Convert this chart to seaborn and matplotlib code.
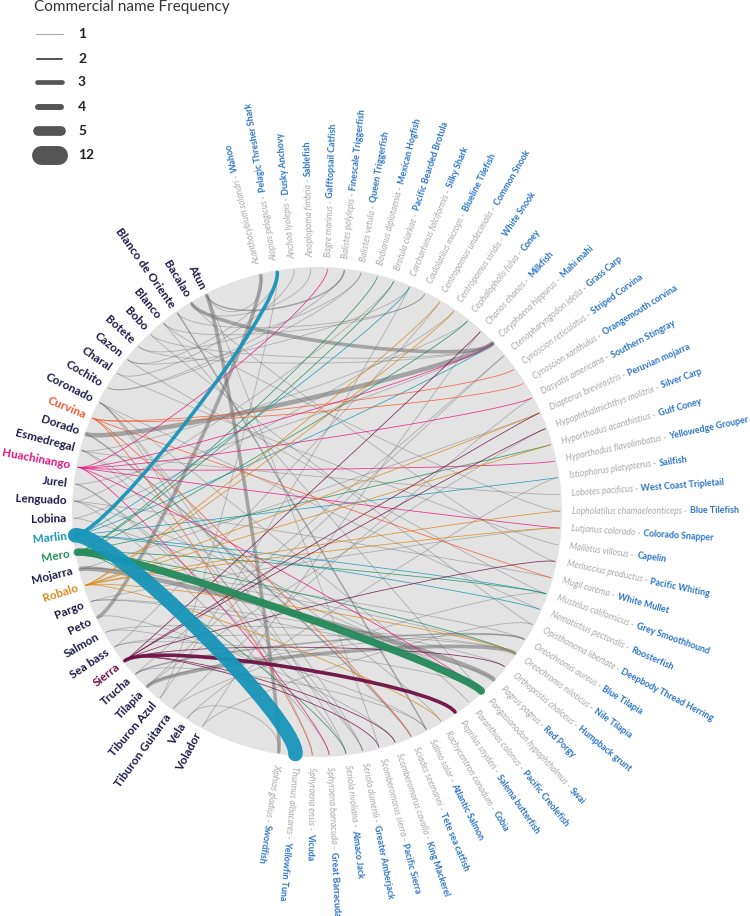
import numpy as np
import matplotlib
matplotlib.use("Agg")
import matplotlib.pyplot as plt
from matplotlib.path import Path
from matplotlib.patches import PathPatch, Circle
from matplotlib.font_manager import FontProperties
import seaborn as sns

sns.set_theme(style="white")
plt.rcParams["font.family"] = ["Lato", "DejaVu Sans"]

# ---- data -------------------------------------------------------------
commercial_names = [
    "Atun", "Bacalao", "Blanco de Oriente", "Blanco", "Bobo", "Botete", "Cazon",
    "Charal", "Cochito", "Coronado", "Curvina", "Dorado", "Esmedregal",
    "Huachinango", "Jurel", "Lenguado", "Lobina", "Marlin", "Mero", "Mojarra",
    "Robalo", "Pargo", "Peto", "Salmon", "Sea bass", "Sierra", "Trucha",
    "Tilapia", "Tiburon Azul", "Tiburon Guitarra", "Vela", "Volador",
]

scientific_names = [
    "Acanthocybium solandri", "Alopias pelagicus", "Anchoa lyolepis",
    "Anoplopoma fimbria", "Bagre marinus", "Balistes polylepis",
    "Balistes vetula", "Bodianus diplotaenia", "Brotula clarkae",
    "Carcharhinus falciformis", "Caulolatilus microps",
    "Centropomus undecimalis", "Centropomus viridis", "Cephalopholis fulva",
    "Chanos chanos", "Coryphaena hippurus", "Ctenopharyngodon idella",
    "Cynoscion reticulatus", "Cynoscion xanthulus", "Dasyatis americana",
    "Diapterus brevirostris", "Hypophthalmichthys molitrix",
    "Hyporthodus acanthistius", "Hyporthodus flavolimbatus",
    "Istiophorus platypterus", "Lobotes pacificus",
    "Lopholatilus chamaeleonticeps", "Lutjanus colorado", "Mallotus villosus",
    "Merluccius productus", "Mugil curema", "Mustelus californicus",
    "Nematistius pectoralis", "Opisthonema libertate", "Oreochromis aureus",
    "Oreochromis niloticus", "Orthopristis chalceus", "Pagrus pagrus",
    "Pangasianodon hypophthalmus", "Paranthias colonus", "Peprilus snyderi",
    "Rachycentron canadum", "Salmo salar", "Sciades seemanni",
    "Scomberomorus cavalla", "Scomberomorus sierra", "Seriola dumerili",
    "Seriola rivoliana", "Sphyraena barracuda", "Sphyraena ensis",
    "Thunnus albacares", "Xiphias gladius",
]

english_names = [
    "Wahoo", "Pelagic Thresher Shark", "Dusky Anchovy", "Sablefish",
    "Gafftopsail Catfish", "Finescale Triggerfish", "Queen Triggerfish",
    "Mexican Hogfish", "Pacific Bearded Brotula", "Silky Shark",
    "Blueline Tilefish", "Common Snook", "White Snook", "Coney", "Milkfish",
    "Mahi mahi", "Grass Carp", "Striped Corvina", "Orangemouth corvina",
    "Southern Stingray", "Peruvian mojarra", "Silver Carp", "Gulf Coney",
    "Yellowedge Grouper", "Sailfish", "West Coast Tripletail", "Blue Tilefish",
    "Colorado Snapper", "Capelin", "Pacific Whiting", "White Mullet",
    "Grey Smoothhound", "Roosterfish", "Deepbody Thread Herring",
    "Blue Tilapia", "Nile Tilapia", "Humpback grunt", "Red Porgy", "Swai",
    "Pacific Creolefish", "Salema butterfish", "Cobia", "Atlantic Salmon",
    "Tete sea catfish", "King Mackerel", "Pacific Sierra", "Greater Amberjack",
    "Almaco Jack", "Great Barracuda", "Vicuda", "Yellowfin Tuna", "Swordfish",
]

# links: commercial name -> species, frequency
link_source = [
    "Marlin", "Marlin", "Marlin", "Marlin", "Marlin", "Marlin", "Marlin",
    "Mero", "Mero", "Mero", "Mero", "Mero", "Mero", "Mero", "Mero",
    "Curvina", "Curvina", "Curvina", "Curvina", "Curvina",
    "Huachinango", "Huachinango", "Huachinango", "Huachinango", "Huachinango",
    "Huachinango", "Huachinango",
    "Robalo", "Robalo", "Robalo", "Robalo", "Robalo", "Robalo", "Robalo", "Robalo",
    "Sierra", "Sierra", "Sierra", "Sierra", "Sierra", "Sierra", "Sierra", "Sierra",
    "Atun", "Atun", "Atun", "Atun",
    "Bacalao", "Bacalao", "Bacalao",
    "Blanco de Oriente", "Blanco de Oriente",
    "Blanco", "Blanco", "Blanco",
    "Bobo", "Bobo",
    "Botete", "Botete",
    "Cazon", "Cazon", "Cazon",
    "Charal", "Charal",
    "Cochito", "Cochito",
    "Coronado", "Coronado", "Coronado", "Coronado", "Coronado",
    "Dorado", "Dorado",
    "Esmedregal", "Esmedregal", "Esmedregal", "Esmedregal",
    "Jurel", "Jurel", "Jurel",
    "Lenguado", "Lenguado", "Lenguado", "Lenguado",
    "Lobina", "Lobina",
    "Mojarra", "Mojarra", "Mojarra", "Mojarra",
    "Pargo", "Pargo", "Pargo",
    "Peto", "Peto",
    "Salmon", "Salmon",
    "Sea bass", "Sea bass", "Sea bass",
    "Trucha", "Trucha", "Trucha",
    "Tilapia", "Tilapia", "Tilapia", "Tilapia",
    "Tiburon Azul", "Tiburon Azul",
    "Tiburon Guitarra", "Tiburon Guitarra",
    "Vela", "Vela",
    "Volador", "Volador",
]
link_target = [
    "Thunnus albacares", "Alopias pelagicus", "Istiophorus platypterus",
    "Carcharhinus falciformis", "Coryphaena hippurus", "Nematistius pectoralis",
    "Mustelus californicus",
    "Pangasianodon hypophthalmus", "Bodianus diplotaenia", "Brotula clarkae",
    "Cephalopholis fulva", "Hyporthodus acanthistius", "Mustelus californicus",
    "Oreochromis niloticus", "Seriola rivoliana",
    "Cynoscion reticulatus", "Cynoscion xanthulus", "Sphyraena ensis",
    "Sciades seemanni", "Mugil curema",
    "Bagre marinus", "Coryphaena hippurus", "Dasyatis americana",
    "Hyporthodus flavolimbatus", "Pangasianodon hypophthalmus",
    "Sphyraena barracuda", "Lutjanus colorado",
    "Centropomus undecimalis", "Centropomus viridis", "Diapterus brevirostris",
    "Hyporthodus acanthistius", "Lopholatilus chamaeleonticeps",
    "Lutjanus colorado", "Oreochromis niloticus", "Rachycentron canadum",
    "Peprilus snyderi", "Scomberomorus cavalla", "Diapterus brevirostris",
    "Hypophthalmichthys molitrix", "Merluccius productus",
    "Orthopristis chalceus", "Chanos chanos", "Scomberomorus sierra",
    "Xiphias gladius", "Balistes polylepis", "Acanthocybium solandri",
    "Scomberomorus sierra",
    "Coryphaena hippurus", "Anoplopoma fimbria", "Merluccius productus",
    "Salmo salar", "Caulolatilus microps",
    "Lopholatilus chamaeleonticeps", "Caulolatilus microps",
    "Pangasianodon hypophthalmus",
    "Coryphaena hippurus", "Opisthonema libertate",
    "Balistes vetula", "Coryphaena hippurus",
    "Mustelus californicus", "Carcharhinus falciformis", "Alopias pelagicus",
    "Mallotus villosus", "Anchoa lyolepis",
    "Balistes polylepis", "Balistes vetula",
    "Seriola dumerili", "Seriola rivoliana", "Paranthias colonus",
    "Nematistius pectoralis", "Sphyraena ensis",
    "Coryphaena hippurus", "Sciades seemanni",
    "Rachycentron canadum", "Seriola dumerili", "Cephalopholis fulva",
    "Lobotes pacificus",
    "Seriola dumerili", "Seriola rivoliana", "Coryphaena hippurus",
    "Brotula clarkae", "Mugil curema", "Pangasianodon hypophthalmus",
    "Sphyraena barracuda",
    "Centropomus viridis", "Pangasianodon hypophthalmus",
    "Pagrus pagrus", "Diapterus brevirostris", "Oreochromis niloticus",
    "Oreochromis aureus",
    "Lutjanus colorado", "Pagrus pagrus", "Orthopristis chalceus",
    "Acanthocybium solandri", "Scomberomorus cavalla",
    "Salmo salar", "Oreochromis niloticus",
    "Centropomus undecimalis", "Oreochromis niloticus",
    "Pangasianodon hypophthalmus",
    "Oreochromis aureus", "Salmo salar", "Ctenopharyngodon idella",
    "Oreochromis niloticus", "Oreochromis aureus", "Ctenopharyngodon idella",
    "Hypophthalmichthys molitrix",
    "Carcharhinus falciformis", "Alopias pelagicus",
    "Dasyatis americana", "Mustelus californicus",
    "Istiophorus platypterus", "Xiphias gladius",
    "Chanos chanos", "Opisthonema libertate",
]
link_freq = [
    12, 3, 1, 1, 1, 1, 1,
    5, 1, 1, 1, 1, 1, 1, 1,
    1, 1, 1, 1, 1,
    1, 1, 1, 1, 1, 1, 1,
    1, 1, 1, 1, 1, 1, 1, 1,
    3, 1, 1, 1, 1, 1, 1, 1,
    3, 2, 1, 1,
    3, 1, 1,
    2, 1,
    1, 1, 1,
    1, 1,
    1, 1,
    1, 1, 1,
    1, 1,
    1, 1,
    1, 1, 1, 1, 1,
    4, 2,
    1, 1, 1, 1,
    1, 1, 1,
    1, 1, 1, 1,
    1, 1,
    4, 1, 1, 1,
    1, 1, 1,
    3, 1,
    1, 1,
    1, 1, 1,
    2, 1, 1,
    3, 1, 1, 1,
    1, 1,
    1, 1,
    1, 1,
    1, 1,
]

legend_freq = [1, 2, 3, 4, 5, 12]

highlight = {
    "Curvina": "#f05a33",
    "Huachinango": "#e6157f",
    "Marlin": "#1795b8",
    "Mero": "#238a5b",
    "Robalo": "#d8891c",
    "Sierra": "#6e1046",
}

# ---- style ------------------------------------------------------------
NAVY = "#1c1b4a"
SCI_GREY = "#a8a8a8"
ENG_BLUE = "#2a74c6"
LINK_GREY = "#707070"
DISC = "#e3e3e3"
WIDTH = {1: 0.6, 2: 1.1, 3: 2.6, 4: 3.3, 5: 5.4, 12: 10.5}

W, H = 750, 916
CX, CY, R = 317, 916 - 512, 245


def left_angle(i):
    return np.deg2rad(117 + 4.03 * i)


def right_angle(j):
    return np.deg2rad(103.4 - 3.97 * j)


def polar(a, r):
    return CX + r * np.cos(a), CY + r * np.sin(a)


fig = plt.figure(figsize=(W / 100, H / 100), dpi=100)
ax = fig.add_axes([0, 0, 1, 1])
ax.set_xlim(0, W)
ax.set_ylim(0, H)
ax.axis("off")

ax.add_patch(Circle((CX, CY), R, facecolor=DISC, edgecolor="none", zorder=0))

# chords
order = sorted(range(len(link_freq)),
               key=lambda k: (link_source[k] in highlight, link_freq[k]))
for k in order:
    a0 = left_angle(commercial_names.index(link_source[k]))
    a1 = right_angle(scientific_names.index(link_target[k]))
    p0 = polar(a0, R - 2)
    p3 = polar(a1, R - 2)
    p1 = polar(a0, R * 0.85)
    p2 = polar(a1, R * 0.85)
    path = Path([p0, p1, p2, p3], [Path.MOVETO, Path.CURVE4, Path.CURVE4, Path.CURVE4])
    src = link_source[k]
    color = highlight.get(src, LINK_GREY)
    if src in highlight:
        alpha = 0.95 if link_freq[k] > 1 else 0.8
    else:
        alpha = 0.55 if link_freq[k] > 1 else 0.45
    ax.add_patch(PathPatch(path, fill=False, edgecolor=color, alpha=alpha,
                           lw=WIDTH[link_freq[k]], capstyle="round", zorder=2))

# left labels
for i, name in enumerate(commercial_names):
    a = left_angle(i)
    x, y = polar(a, R + 6)
    ax.text(x, y, name, rotation=np.rad2deg(a) - 180, rotation_mode="anchor",
            ha="right", va="center", fontsize=8.5, fontweight="bold",
            color=highlight.get(name, NAVY), zorder=3)

# right labels: scientific (grey italic) + english (blue bold)
renderer = fig.canvas.get_renderer()
sci_prop = FontProperties(family=["Lato", "DejaVu Sans"], style="italic", size=6.2)
eng_prop = FontProperties(family=["Lato", "DejaVu Sans"], weight="bold", size=6.4)
for j, (sci, eng) in enumerate(zip(scientific_names, english_names)):
    a = right_angle(j)
    deg = np.rad2deg(a)
    s = sci + " -"
    x, y = polar(a, R + 10)
    ax.text(x, y, s, rotation=deg, rotation_mode="anchor", ha="left", va="center",
            fontproperties=sci_prop, color=SCI_GREY, zorder=3)
    w, _, _ = renderer.get_text_width_height_descent(s, sci_prop, ismath=False)
    x2, y2 = polar(a, R + 10 + w + 3)
    ax.text(x2, y2, eng, rotation=deg, rotation_mode="anchor", ha="left", va="center",
            fontproperties=eng_prop, color=ENG_BLUE, zorder=3)

# legend
ax.text(34, H - 7, "Commercial name Frequency", fontsize=11, color="#333333",
        ha="left", va="center")
leg_y = [34, 59, 82, 107, 131, 155]
for f, yy in zip(legend_freq, leg_y):
    lw = WIDTH[f] * 1.3
    col = "#aaaaaa" if f == 1 else "#555555"
    ax.plot([36 + lw * 0.35, 63 - lw * 0.35], [H - yy, H - yy], color=col, lw=lw,
            solid_capstyle="round")
    ax.text(78, H - yy, str(f), fontsize=10, fontweight="bold", color="#222222",
            ha="left", va="center")

fig.savefig("out.png", dpi=100)
